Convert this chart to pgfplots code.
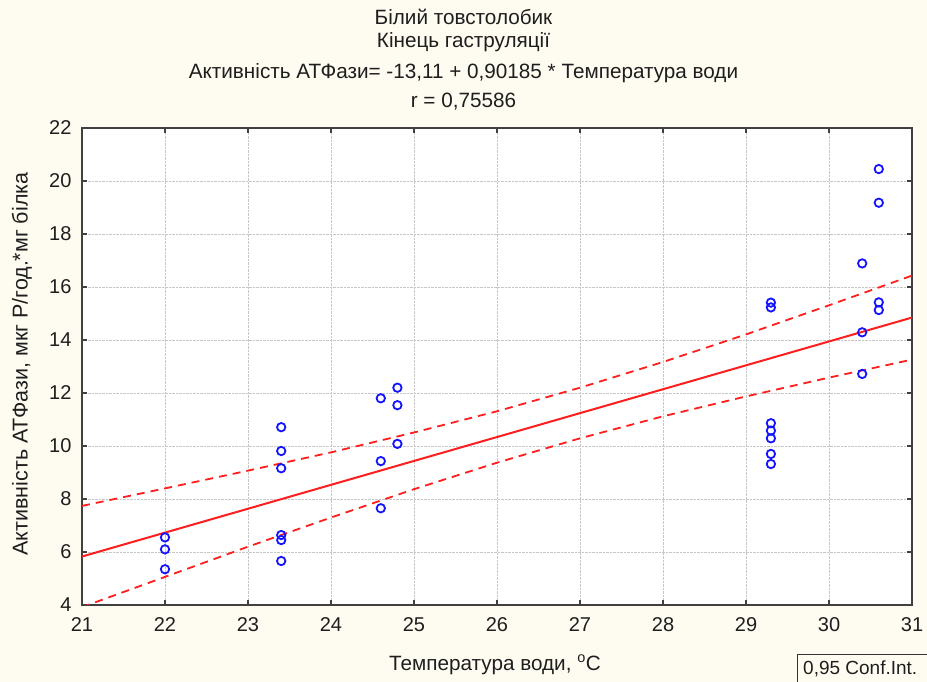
\documentclass[border=0pt]{standalone}
\usepackage{pgfplots}
\pgfplotsset{compat=1.18}
\usepackage{fontspec}
\setmainfont{Liberation Sans}
\definecolor{bgcream}{RGB}{254,251,240}
\definecolor{ptblue}{RGB}{20,20,255}
\definecolor{fitred}{RGB}{255,30,30}
\definecolor{txt}{RGB}{30,30,30}

\begin{document}
\begin{tikzpicture}[x=1pt,y=1pt]
\useasboundingbox (-82,-77) rectangle (845,605);
\fill[bgcream] (-82,-77) rectangle (845,605);
\begin{axis}[
    at={(0,0)}, anchor=south west,
    scale only axis, width=830pt, height=477pt,
    xmin=21, xmax=31, ymin=4, ymax=22,
    xtick={21,...,31}, ytick={4,6,...,22},
    axis background/.style={fill=white},
    axis line style={line width=2pt, black!75},
    grid=major, grid style={densely dotted, gray!45, line width=0.8pt},
    tick style={black!75, line width=1.2pt},
    tick align=inside, major tick length=5pt,
    tick label style={font=\fontsize{20}{22}\selectfont, text=txt},
    /pgf/number format/assume math mode=true,
    /pgf/number format/use comma,
    xticklabel style={yshift=-9pt},
    yticklabel style={xshift=-7pt},
    clip=true,
]
% 0.95 confidence band, upper
\addplot[fitred, line width=1.8pt, dash pattern=on 8pt off 6pt] coordinates {
    (21,7.74)(22,8.40)(23,9.07)(24,9.76)(25,10.51)(26,11.31)
    (27,12.20)(28,13.17)(29,14.21)(30,15.31)(31,16.43)
};
% 0.95 confidence band, lower
\addplot[fitred, line width=1.8pt, dash pattern=on 8pt off 6pt] coordinates {
    (21,3.92)(22,5.06)(23,6.20)(24,7.30)(25,8.37)(26,9.37)
    (27,10.29)(28,11.12)(29,11.87)(30,12.58)(31,13.26)
};
% regression line
\addplot[fitred, line width=2pt] coordinates {(21,5.829)(31,14.847)};
% observations
\addplot[only marks, mark=o, mark size=4.2pt, mark options={ptblue, line width=1.8pt}] coordinates {
    (22,6.55)(22,6.10)(22,5.35)
    (23.4,10.71)(23.4,9.81)(23.4,9.16)(23.4,6.64)(23.4,6.45)(23.4,5.66)
    (24.6,11.80)(24.6,9.43)(24.6,7.65)
    (24.8,12.20)(24.8,11.54)(24.8,10.08)
    (29.3,15.41)(29.3,15.23)(29.3,10.86)(29.3,10.58)(29.3,10.29)(29.3,9.70)(29.3,9.32)
    (30.4,16.89)(30.4,14.29)(30.4,12.72)
    (30.6,20.45)(30.6,19.18)(30.6,15.42)(30.6,15.13)
};
\end{axis}
% titles
\begin{scope}[every node/.style={font=\fontsize{20.7}{23}\selectfont, text=txt}]
\node at (381.5,588) {Білий товстолобик};
\node at (381.5,563) {Кінець гаструляції};
\node at (381.5,532) {Активність АТФази= -13,11 + 0,90185 * Температура води};
\node at (381.5,503) {r = 0,75586};
\node at (413,-60) {Температура води, \textsuperscript{o}C};
\node[rotate=90, font=\fontsize{21.5}{23}\selectfont] at (-60,241) {Активність АТФази, мкг Р/год.*мг білка};
\draw[black!80, line width=1pt] (715,-50) rectangle (880,-95);
\node[anchor=west, inner sep=0pt, font=\fontsize{19}{21}\selectfont] at (721,-64) {0,95 Conf.Int.};
\end{scope}
\end{tikzpicture}
\end{document}
